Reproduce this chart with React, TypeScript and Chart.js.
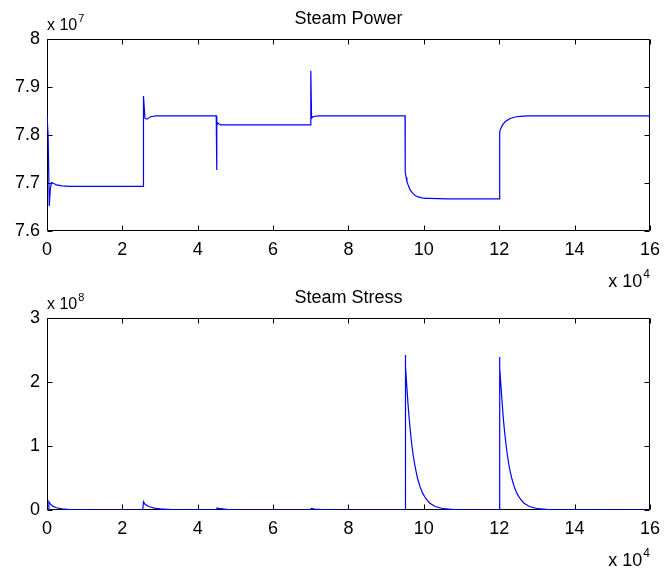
import React, { useEffect, useRef } from "react";
import { Chart, registerables } from "chart.js";

Chart.register(...registerables);

// ---------- Data (x in units of 1e4, y in units shown on axes) ----------
const powerX = [
  0, 0.03, 0.06, 0.09, 0.12, 0.16, 0.25, 0.4, 0.6,
  2.55, 2.56, 2.6, 2.65, 2.75, 2.9,
  4.49, 4.5, 4.51, 4.53, 4.6,
  6.99, 7.0, 7.02, 7.05, 7.2,
  9.5, 9.505, 9.53, 9.55, 9.6, 9.64, 9.7, 9.77, 9.85, 9.95, 10.05, 10.16, 10.6,
  12.0, 12.005, 12.02, 12.05, 12.09, 12.15, 12.22, 12.28, 12.35, 12.45, 12.57, 12.75, 12.96, 16,
];
const powerY = [
  7.84, 7.8, 7.652, 7.69, 7.701, 7.7, 7.696, 7.694, 7.693,
  7.693, 7.881, 7.835, 7.833, 7.838, 7.84,
  7.84, 7.727, 7.82, 7.825, 7.821,
  7.821, 7.934, 7.835, 7.838, 7.84,
  7.84, 7.724, 7.711, 7.703, 7.692, 7.685, 7.679, 7.674, 7.671, 7.669, 7.668, 7.668, 7.667,
  7.667, 7.79, 7.807, 7.815, 7.821, 7.827, 7.831, 7.834, 7.836, 7.838, 7.839, 7.84, 7.84, 7.84,
];

const stressX = [
  0, 0.04, 0.05, 0.08, 0.15, 0.25, 0.4, 0.6, 0.9, 1.3,
  2.54, 2.56, 2.6, 2.7, 2.85, 3.0, 3.3, 3.7,
  4.5, 4.51, 4.6, 4.8, 5.1, 5.5,
  7.0, 7.01, 7.1, 7.3, 7.6, 8.0,
  9.5, 9.505, 9.52, 9.55, 9.58, 9.61, 9.64, 9.68, 9.72, 9.77, 9.83, 9.9, 9.97, 10.05, 10.15, 10.3, 10.52, 10.8, 11.2,
  12.0, 12.005, 12.02, 12.05, 12.08, 12.11, 12.14, 12.18, 12.22, 12.27, 12.33, 12.4, 12.47, 12.55, 12.65, 12.8, 13.02, 13.3, 13.8, 16,
];
const stressY = [
  0, 0, 0.13, 0.1, 0.06, 0.035, 0.017, 0.007, 0.002, 0,
  0, 0.13, 0.09, 0.055, 0.03, 0.017, 0.006, 0.001,
  0, 0.03, 0.02, 0.008, 0.002, 0,
  0, 0.025, 0.016, 0.007, 0.001, 0,
  0, 2.42, 2.24, 1.91, 1.65, 1.43, 1.24, 1.02, 0.84, 0.67, 0.5, 0.36, 0.26, 0.18, 0.11, 0.055, 0.02, 0.005, 0,
  0, 2.39, 2.22, 1.9, 1.65, 1.42, 1.23, 1.02, 0.84, 0.66, 0.5, 0.36, 0.26, 0.18, 0.11, 0.055, 0.02, 0.006, 0.001, 0,
];

const xTickLabels = ["0", "2", "4", "6", "8", "10", "12", "14", "16"];
const powerTickLabels = ["7.6", "7.7", "7.8", "7.9", "8"];
const stressTickLabels = ["0", "1", "2", "3"];

const FONT = "'Liberation Sans', Arial, Helvetica, sans-serif";

type PanelCfg = {
  title: string;
  xs: number[];
  ys: number[];
  yMin: number;
  yMax: number;
  yStep: number;
  yLabels: string[];
  yExp: string;
  height: number;
  padTop: number;
  xAxisH: number;
  titleY: number;
  yExpY: number;
  xExpY: number;
};

function makeChart(canvas: HTMLCanvasElement, p: PanelCfg) {
  const data = p.xs.map((x, i) => ({ x, y: p.ys[i] }));
  const boxPlugin = {
    id: "box",
    beforeDatasetsDraw(chart: any) {
      const { ctx, chartArea: a, scales } = chart;
      ctx.save();
      ctx.strokeStyle = "#000";
      ctx.lineWidth = 1;
      const L = Math.round(a.left) + 0.5;
      const R = Math.round(a.right) - 0.5;
      const T = Math.round(a.top) + 0.5;
      const B = Math.round(a.bottom) - 0.5;
      ctx.beginPath();
      ctx.rect(L, T, R - L, B - T);
      ctx.stroke();
      const tl = 5;
      ctx.beginPath();
      scales.x.ticks.forEach((t: any) => {
        const px = Math.round(scales.x.getPixelForValue(t.value)) + 0.5;
        ctx.moveTo(px, B);
        ctx.lineTo(px, B - tl);
        ctx.moveTo(px, T);
        ctx.lineTo(px, T + tl);
      });
      scales.y.ticks.forEach((t: any) => {
        const py = Math.round(scales.y.getPixelForValue(t.value)) + 0.5;
        ctx.moveTo(L, py);
        ctx.lineTo(L + tl, py);
        ctx.moveTo(R, py);
        ctx.lineTo(R - tl, py);
      });
      ctx.stroke();
      ctx.restore();
    },
    afterDraw(chart: any) {
      const { ctx, chartArea: a } = chart;
      ctx.save();
      ctx.fillStyle = "#000";
      ctx.textBaseline = "alphabetic";
      // title
      ctx.font = `18px ${FONT}`;
      ctx.textAlign = "center";
      ctx.fillText(p.title, (a.left + a.right) / 2, p.titleY);
      // y exponent
      ctx.textAlign = "left";
      ctx.font = `16px ${FONT}`;
      const base = "x 10";
      ctx.fillText(base, a.left, p.yExpY);
      const w1 = ctx.measureText(base).width;
      ctx.font = `11px ${FONT}`;
      ctx.fillText(p.yExp, a.left + w1 + 1, p.yExpY - 8);
      // x exponent
      ctx.font = `18px ${FONT}`;
      const w2 = ctx.measureText(base).width;
      ctx.font = `12px ${FONT}`;
      const w3 = ctx.measureText("4").width;
      const xStart = a.right - w2 - w3 - 1;
      ctx.font = `18px ${FONT}`;
      ctx.fillText(base, xStart, p.xExpY);
      ctx.font = `12px ${FONT}`;
      ctx.fillText("4", xStart + w2 + 1, p.xExpY - 9);
      ctx.restore();
    },
  };

  return new Chart(canvas, {
    type: "scatter",
    data: {
      datasets: [
        {
          data,
          showLine: true,
          borderColor: "#0000ff",
          backgroundColor: "#0000ff",
          borderWidth: 1.2,
          pointRadius: 0,
          tension: 0,
        },
      ],
    },
    options: {
      responsive: false,
      animation: false,
      layout: { padding: { top: p.padTop, right: 13, left: 0, bottom: 0 } },
      plugins: { legend: { display: false }, tooltip: { enabled: false } },
      scales: {
        x: {
          type: "linear",
          min: 0,
          max: 16,
          grid: { display: false, drawTicks: false },
          border: { display: false },
          ticks: {
            stepSize: 2,
            padding: 8,
            color: "#000",
            font: { family: FONT, size: 18 },
            maxRotation: 0,
            callback: (_v: any, i: number) => xTickLabels[i],
          },
          afterFit: (s: any) => {
            s.height = p.xAxisH;
          },
        },
        y: {
          type: "linear",
          min: p.yMin,
          max: p.yMax,
          grid: { display: false, drawTicks: false },
          border: { display: false },
          ticks: {
            stepSize: p.yStep,
            padding: 7,
            color: "#000",
            font: { family: FONT, size: 18 },
            callback: (_v: any, i: number) => p.yLabels[i],
          },
          afterFit: (s: any) => {
            s.width = 47;
          },
        },
      },
    },
    plugins: [boxPlugin],
  } as any);
}

function Panel({ cfg, top }: { cfg: PanelCfg; top: number }) {
  const ref = useRef<HTMLCanvasElement>(null);
  useEffect(() => {
    if (!ref.current) return;
    const c = makeChart(ref.current, cfg);
    return () => c.destroy();
  }, []);
  return (
    <canvas
      ref={ref}
      width={668}
      height={cfg.height}
      style={{ position: "absolute", left: 0, top, width: 668, height: cfg.height }}
    />
  );
}

const topCfg: PanelCfg = {
  title: "Steam Power",
  xs: powerX,
  ys: powerY,
  yMin: 7.6,
  yMax: 8,
  yStep: 0.1,
  yLabels: powerTickLabels,
  yExp: "7",
  height: 287,
  padTop: 39,
  xAxisH: 56,
  titleY: 24,
  yExpY: 30,
  xExpY: 287,
};

const botCfg: PanelCfg = {
  title: "Steam Stress",
  xs: stressX,
  ys: stressY,
  yMin: 0,
  yMax: 3,
  yStep: 1,
  yLabels: stressTickLabels,
  yExp: "8",
  height: 288,
  padTop: 31,
  xAxisH: 65,
  titleY: 16,
  yExpY: 22,
  xExpY: 279,
};

export default function App() {
  return (
    <div style={{ position: "absolute", left: 0, top: 0, width: 668, height: 575, background: "#fff" }}>
      <Panel cfg={topCfg} top={0} />
      <Panel cfg={botCfg} top={287} />
    </div>
  );
}
